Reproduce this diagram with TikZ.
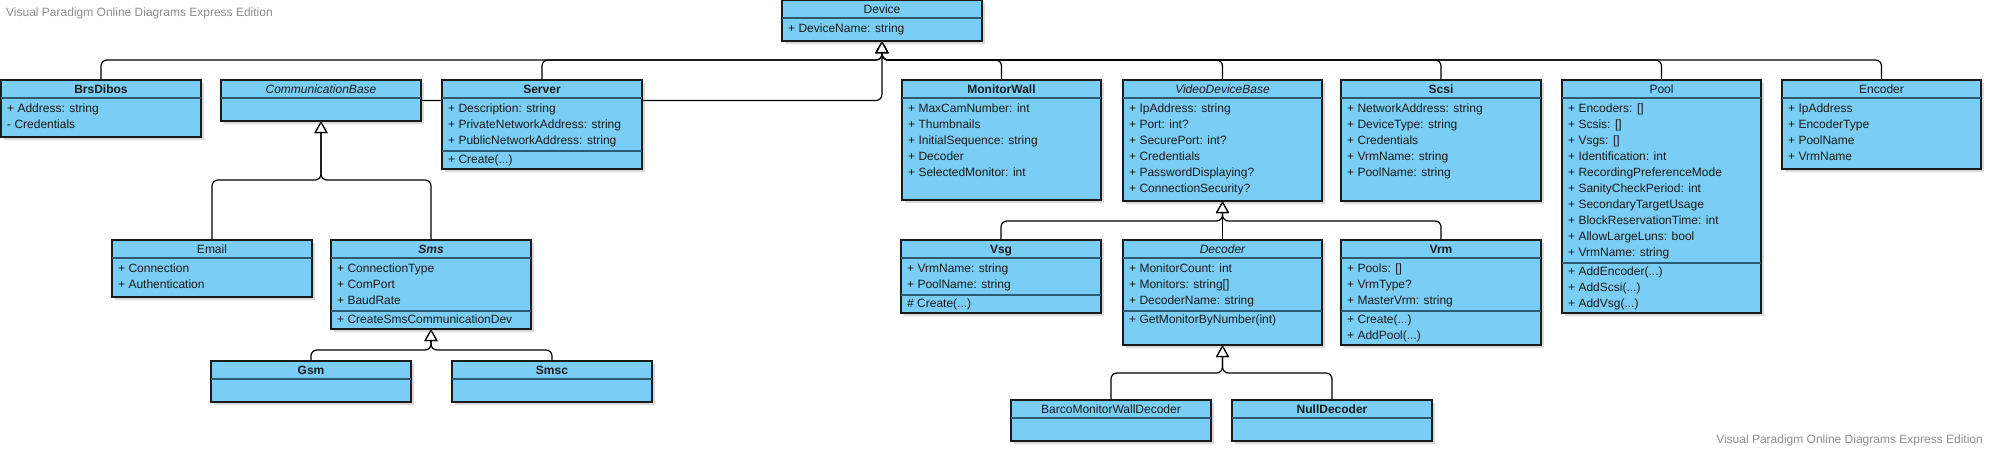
\documentclass[tikz,border=0pt]{standalone}
\usepackage{fontspec}
\setmainfont{Liberation Sans}
\usetikzlibrary{arrows.meta,shadows,calc}
\definecolor{clsfill}{HTML}{7ACDF4}
\definecolor{clsline}{HTML}{1A1A1A}
\definecolor{sepline}{HTML}{2C5A70}
\definecolor{wmgray}{HTML}{8C8C8C}
\pgfdeclarelayer{bg}
\pgfsetlayers{bg,main}
\tikzset{
  cls/.style={draw=clsline, line width=1.3pt, fill=clsfill, anchor=north west,
    inner sep=0pt, outer sep=0pt,
    drop shadow={shadow xshift=3pt, shadow yshift=-3pt, opacity=0.3, fill=gray}},
  ttl/.style={anchor=base, font=\fontsize{12}{14}\selectfont, text=clsline, inner sep=0pt},
  att/.style={anchor=base west, font=\fontsize{12}{14}\selectfont, text=clsline, inner sep=0pt},
  sepl/.style={draw=sepline, line width=1.2pt},
  gen/.style={draw=black, line width=1.2pt, rounded corners=6pt,
    -{Triangle[open, fill=white, width=13pt, length=12pt]}},
  wm/.style={font=\fontsize{12}{14}\selectfont, text=wmgray, inner sep=0pt},
}
\newcommand\umlcls[6]{%
  \node[cls, minimum width=#4pt, minimum height=#5pt] (#1) at (#2,#3) {};
  \node[ttl] (#1-t) at ($(#1.north)+(0,13)$) {#6};
  \draw[sepl] ($(#1.north west)+(0,18)$) -- ($(#1.north east)+(0,18)$);
}
\newcommand\umlrow[3]{\node[att] at ($(#1.north west)+(6,#2)$) {#3};}
\newcommand\umlsep[2]{\draw[sepl] ($(#1.north west)+(0,#2)$) -- ($(#1.north east)+(0,#2)$);}
\begin{document}
\begin{tikzpicture}[x=1pt,y=-1pt]
\useasboundingbox (0,0) rectangle (1995,456);

% ---- classes ----
\umlcls{device}{782}{0}{200}{41}{Device}
\umlrow{device}{32}{+ DeviceName: string}

\umlcls{brs}{1}{80}{200}{57}{\bfseries BrsDibos}
\umlrow{brs}{32}{+ Address: string}
\umlrow{brs}{48}{- Credentials}

\umlcls{commbase}{221}{80}{200}{41}{\itshape CommunicationBase}

\umlcls{server}{442}{80}{200}{89}{\bfseries Server}
\umlrow{server}{32}{+ Description: string}
\umlrow{server}{48}{+ PrivateNetworkAddress: string}
\umlrow{server}{64}{+ PublicNetworkAddress: string}
\umlsep{server}{71}
\umlrow{server}{83}{+ Create(...)}

\umlcls{email}{112}{240}{200}{57}{Email}
\umlrow{email}{32}{+ Connection}
\umlrow{email}{48}{+ Authentication}

\umlcls{sms}{331}{240}{200}{89}{\bfseries\itshape Sms}
\umlrow{sms}{32}{+ ConnectionType}
\umlrow{sms}{48}{+ ComPort}
\umlrow{sms}{64}{+ BaudRate}
\umlsep{sms}{71}
\umlrow{sms}{83}{+ CreateSmsCommunicationDev}

\umlcls{gsm}{211}{361}{200}{41}{\bfseries Gsm}
\umlcls{smsc}{452}{361}{200}{41}{\bfseries Smsc}

\umlcls{monwall}{902}{80}{199}{120}{\bfseries MonitorWall}
\umlrow{monwall}{32}{+ MaxCamNumber: int}
\umlrow{monwall}{48}{+ Thumbnails}
\umlrow{monwall}{64}{+ InitialSequence: string}
\umlrow{monwall}{80}{+ Decoder}
\umlrow{monwall}{96}{+ SelectedMonitor: int}

\umlcls{vdb}{1123}{80}{199}{121}{\itshape VideoDeviceBase}
\umlrow{vdb}{32}{+ IpAddress: string}
\umlrow{vdb}{48}{+ Port: int?}
\umlrow{vdb}{64}{+ SecurePort: int?}
\umlrow{vdb}{80}{+ Credentials}
\umlrow{vdb}{96}{+ PasswordDisplaying?}
\umlrow{vdb}{112}{+ ConnectionSecurity?}

\umlcls{scsi}{1341}{80}{200}{121}{\bfseries Scsi}
\umlrow{scsi}{32}{+ NetworkAddress: string}
\umlrow{scsi}{48}{+ DeviceType: string}
\umlrow{scsi}{64}{+ Credentials}
\umlrow{scsi}{80}{+ VrmName: string}
\umlrow{scsi}{96}{+ PoolName: string}

\umlcls{pool}{1562}{80}{199}{233}{Pool}
\umlrow{pool}{32}{+ Encoders: []}
\umlrow{pool}{48}{+ Scsis: []}
\umlrow{pool}{64}{+ Vsgs: []}
\umlrow{pool}{80}{+ Identification: int}
\umlrow{pool}{96}{+ RecordingPreferenceMode}
\umlrow{pool}{112}{+ SanityCheckPeriod: int}
\umlrow{pool}{128}{+ SecondaryTargetUsage}
\umlrow{pool}{144}{+ BlockReservationTime: int}
\umlrow{pool}{160}{+ AllowLargeLuns: bool}
\umlrow{pool}{176}{+ VrmName: string}
\umlsep{pool}{183}
\umlrow{pool}{195}{+ AddEncoder(...)}
\umlrow{pool}{211}{+ AddScsi(...)}
\umlrow{pool}{227}{+ AddVsg(...)}

\umlcls{encoder}{1782}{80}{199}{89}{Encoder}
\umlrow{encoder}{32}{+ IpAddress}
\umlrow{encoder}{48}{+ EncoderType}
\umlrow{encoder}{64}{+ PoolName}
\umlrow{encoder}{80}{+ VrmName}

\umlcls{vsg}{901}{240}{200}{73}{\bfseries Vsg}
\umlrow{vsg}{32}{+ VrmName: string}
\umlrow{vsg}{48}{+ PoolName: string}
\umlsep{vsg}{55}
\umlrow{vsg}{67}{\# Create(...)}

\umlcls{decoder}{1123}{240}{199}{105}{\itshape Decoder}
\umlrow{decoder}{32}{+ MonitorCount: int}
\umlrow{decoder}{48}{+ Monitors: string[]}
\umlrow{decoder}{64}{+ DecoderName: string}
\umlsep{decoder}{71}
\umlrow{decoder}{83}{+ GetMonitorByNumber(int)}

\umlcls{vrm}{1341}{240}{200}{105}{\bfseries Vrm}
\umlrow{vrm}{32}{+ Pools: []}
\umlrow{vrm}{48}{+ VrmType?}
\umlrow{vrm}{64}{+ MasterVrm: string}
\umlsep{vrm}{71}
\umlrow{vrm}{83}{+ Create(...)}
\umlrow{vrm}{99}{+ AddPool(...)}

\umlcls{barco}{1011}{400}{200}{41}{BarcoMonitorWallDecoder}
\umlcls{nulldec}{1232}{400}{200}{41}{\bfseries NullDecoder}

% ---- connectors ----
\begin{pgfonlayer}{bg}
\coordinate (devbus) at ($(device.south)+(0,19)$);
\foreach \c in {brs,server,monwall,vdb,scsi,pool,encoder}
  \draw[gen] (\c.north) |- (devbus) -- (device.south);
\draw[gen] (commbase.east) -| (device.south);

\coordinate (commbus) at ($(commbase.south)+(0,59)$);
\draw[gen] (email.north) |- (commbus) -- (commbase.south);
\draw[gen] (sms.north) |- (commbus) -- (commbase.south);

\coordinate (smsbus) at ($(sms.south)+(0,21)$);
\draw[gen] (gsm.north) |- (smsbus) -- (sms.south);
\draw[gen] (smsc.north) |- (smsbus) -- (sms.south);

\coordinate (vdbbus) at ($(vdb.south)+(0,20)$);
\draw[gen] (vsg.north) |- (vdbbus) -- (vdb.south);
\draw[gen] (vrm.north) |- (vdbbus) -- (vdb.south);
\draw[gen] (decoder.north) -- (vdb.south);

\coordinate (decbus) at ($(decoder.south)+(0,28)$);
\draw[gen] (barco.north) |- (decbus) -- (decoder.south);
\draw[gen] (nulldec.north) |- (decbus) -- (decoder.south);
\end{pgfonlayer}

% ---- watermarks ----
\node[wm, anchor=base west] (wmtop) at (6,16) {Visual Paradigm Online Diagrams Express Edition};
\node[wm, anchor=base east] (wmbot) at (1983,443) {Visual Paradigm Online Diagrams Express Edition};
\end{tikzpicture}
\end{document}
